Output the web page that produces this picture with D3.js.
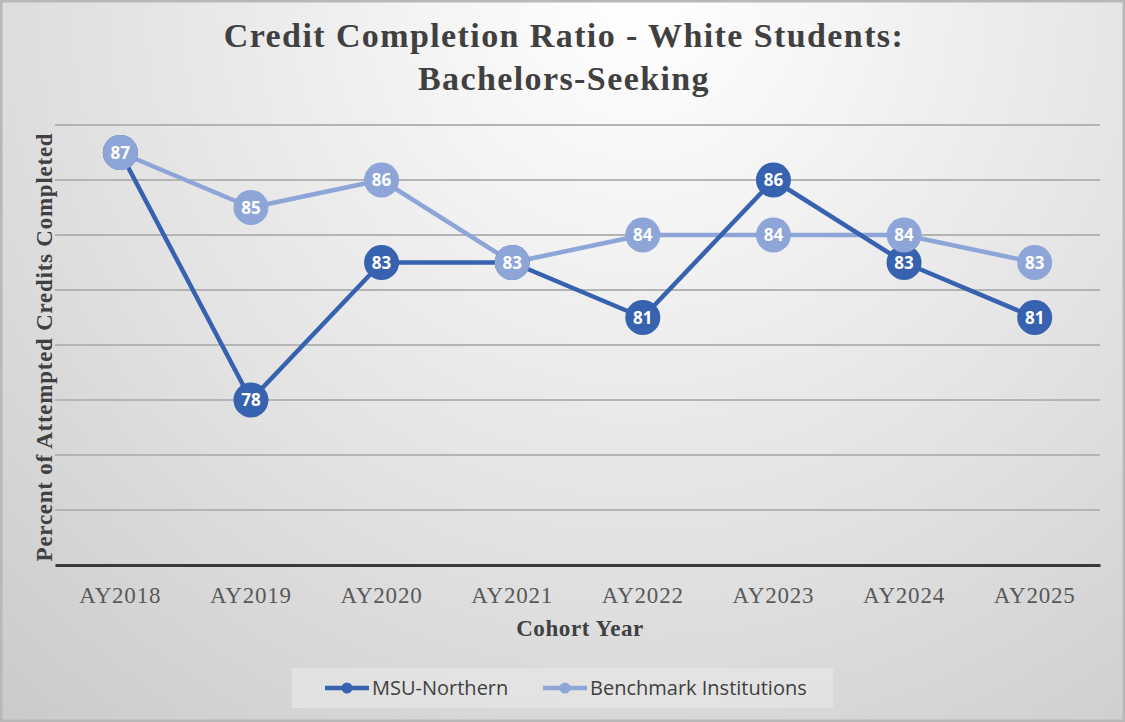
<!DOCTYPE html>
<meta charset="utf-8">
<script src="https://d3js.org/d3.v7.min.js"></script>
<style>
  body { margin: 0; background: #fff; }
</style>
<div id="chart"></div>
<script>
// data
var years = ["AY2018", "AY2019", "AY2020", "AY2021", "AY2022", "AY2023", "AY2024", "AY2025"];
var msuNorthern = [87, 78, 83, 83, 81, 86, 83, 81];
var benchmark = [87, 85, 86, 83, 84, 84, 84, 83];
var seriesNames = ["MSU-Northern", "Benchmark Institutions"];
var seriesColors = ["#3762b0", "#8ea5d8"];
var yTicks = [72, 74, 76, 78, 80, 82, 84, 86, 88];

var W = 1125, H = 722;
var margin = {top: 125, right: 25, bottom: 157, left: 55};
var width = W - margin.left - margin.right,
    height = H - margin.top - margin.bottom;

var svg = d3.select("#chart").append("svg")
    .attr("width", W)
    .attr("height", H);

// background
var defs = svg.append("defs");
var grad = defs.append("radialGradient")
    .attr("id", "bg")
    .attr("gradientUnits", "userSpaceOnUse")
    .attr("cx", 640).attr("cy", 0).attr("r", 1000);
grad.append("stop").attr("offset", "0%").attr("stop-color", "#ffffff");
grad.append("stop").attr("offset", "18%").attr("stop-color", "#f6f6f6");
grad.append("stop").attr("offset", "55%").attr("stop-color", "#e2e2e2");
grad.append("stop").attr("offset", "100%").attr("stop-color", "#c8c8c8");

svg.append("rect")
    .attr("width", W).attr("height", H)
    .attr("fill", "url(#bg)");
svg.append("rect")
    .attr("x", 1).attr("y", 1).attr("width", W - 2).attr("height", H - 2)
    .attr("fill", "none").attr("stroke", "#b8b8b8").attr("stroke-width", 3);

// title
var title = svg.append("text")
    .attr("text-anchor", "middle")
    .attr("font-family", "'Liberation Serif', serif")
    .attr("font-weight", "bold")
    .attr("font-size", 34)
    .attr("letter-spacing", 1.4)
    .attr("fill", "#404040");
title.append("tspan").attr("x", 564).attr("y", 47).text("Credit Completion Ratio - White Students:");
title.append("tspan").attr("x", 564).attr("y", 90).text("Bachelors-Seeking");

var g = svg.append("g")
    .attr("transform", "translate(" + margin.left + "," + margin.top + ")");

var x = d3.scaleBand().domain(years).range([0, width]);
var y = d3.scaleLinear().domain([72, 88]).range([height, 0]);

// gridlines
g.append("g")
  .selectAll("line")
  .data(yTicks.slice(1))
  .enter().append("line")
    .attr("x1", 0).attr("x2", width)
    .attr("y1", function(d) { return y(d); })
    .attr("y2", function(d) { return y(d); })
    .attr("stroke", "#b4b4b4")
    .attr("stroke-width", 2);

// x axis
var xAxis = g.append("g")
    .attr("transform", "translate(0," + height + ")")
    .call(d3.axisBottom(x).tickSize(0).tickPadding(22));
xAxis.select(".domain").attr("stroke", "#3a3a3a").attr("stroke-width", 3);
xAxis.selectAll("text")
    .attr("font-family", "'Liberation Serif', serif")
    .attr("font-size", 23)
    .attr("letter-spacing", 0.8)
    .attr("fill", "#595959");

// axis titles
svg.append("text")
    .attr("x", 580).attr("y", 636)
    .attr("text-anchor", "middle")
    .attr("font-family", "'Liberation Serif', serif")
    .attr("font-weight", "bold")
    .attr("font-size", 23)
    .attr("letter-spacing", 0.6)
    .attr("fill", "#404040")
    .text("Cohort Year");

svg.append("text")
    .attr("transform", "translate(52," + (margin.top + height / 2 + 2) + ") rotate(-90)")
    .attr("text-anchor", "middle")
    .attr("font-family", "'Liberation Serif', serif")
    .attr("font-weight", "bold")
    .attr("font-size", 23)
    .attr("letter-spacing", 0.75)
    .attr("fill", "#404040")
    .text("Percent of  Attempted Credits Completed");

var line = d3.line()
    .x(function(d, i) { return x(years[i]) + x.bandwidth() / 2; })
    .y(function(d) { return y(d); });

var lineLayer = g.append("g");
var dotLayer = g.append("g");

[benchmark, msuNorthern].forEach(function(vals, k) {
  lineLayer.append("path")
      .datum(vals)
      .attr("fill", "none")
      .attr("stroke", seriesColors[1 - k])
      .attr("stroke-width", 4.5)
      .attr("stroke-linejoin", "round")
      .attr("d", line);
});

// markers with labels; benchmark on top at AY2018 and AY2021 like the reference
var points = [];
msuNorthern.forEach(function(v, i) { points.push({v: v, i: i, color: seriesColors[0]}); });
benchmark.forEach(function(v, i) { points.push({v: v, i: i, color: seriesColors[1]}); });

var pt = dotLayer.selectAll("g.pt")
  .data(points)
  .enter().append("g")
    .attr("class", "pt")
    .attr("transform", function(d) {
      return "translate(" + (x(years[d.i]) + x.bandwidth() / 2) + "," + y(d.v) + ")";
    });
pt.append("circle")
    .attr("r", 17.5)
    .attr("fill", function(d) { return d.color; });
pt.append("text")
    .attr("text-anchor", "middle")
    .attr("dy", "0.36em")
    .attr("font-family", "'Open Sans', sans-serif")
    .attr("font-weight", "bold")
    .attr("font-size", 17)
    .attr("fill", "#ffffff")
    .text(function(d) { return d.v; });

// legend
var legend = svg.append("g").attr("transform", "translate(292,668)");
legend.append("rect")
    .attr("width", 541).attr("height", 40)
    .attr("fill", "#e4e4e4")
    .attr("opacity", 0.85);

var legendX = [33, 251];
seriesNames.forEach(function(name, i) {
  var item = legend.append("g").attr("transform", "translate(" + legendX[i] + ",20)");
  item.append("line")
      .attr("x1", 0).attr("x2", 44)
      .attr("stroke", seriesColors[i]).attr("stroke-width", 4.5);
  item.append("circle")
      .attr("cx", 22).attr("r", 5.5)
      .attr("fill", seriesColors[i]);
  item.append("text")
      .attr("x", 47).attr("dy", "0.35em")
      .attr("font-family", "'Open Sans', sans-serif")
      .attr("font-size", 20)
      .attr("fill", "#404040")
      .text(name);
});
</script>
